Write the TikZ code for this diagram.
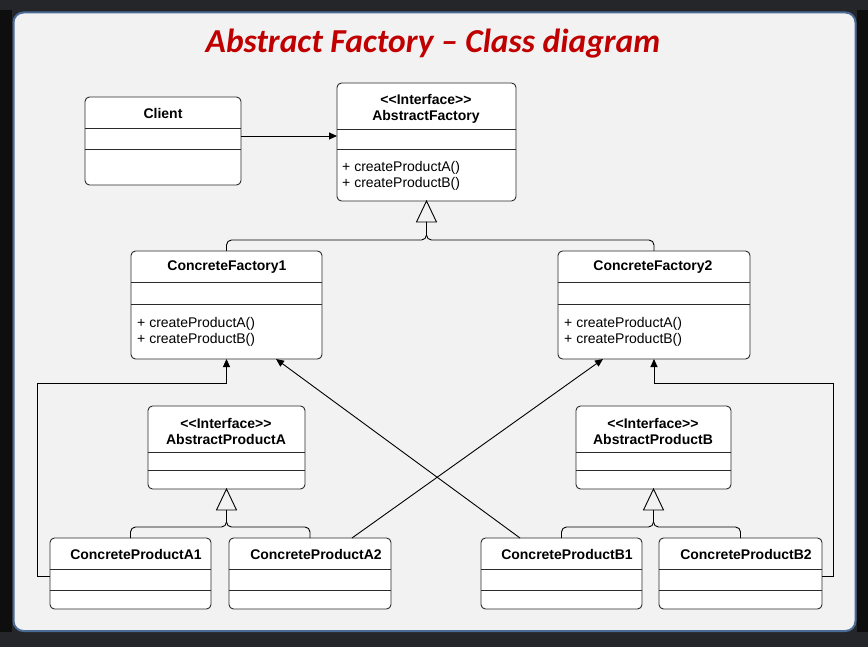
\documentclass[tikz,border=0pt]{standalone}
\usepackage{fontspec}
\setmainfont{Liberation Sans}
\newfontfamily\titlefont{Carlito}
\usetikzlibrary{arrows.meta,calc}
\definecolor{outerbg}{HTML}{25262A}
\definecolor{sidebg}{HTML}{0E0E0E}
\definecolor{panelbg}{HTML}{F2F2F2}
\definecolor{panelbd}{HTML}{4A6B95}
\definecolor{titlered}{HTML}{C00000}
\definecolor{boxline}{HTML}{2A2A2A}
\tikzset{
 ubox/.style={draw=boxline, fill=white, line width=0.9pt, rounded corners=4.5pt, inner sep=0pt, outer sep=0pt},
 sepline/.style={draw=boxline, line width=0.9pt},
 cname/.style={font=\fontsize{14}{16}\selectfont\bfseries, align=center, inner sep=0pt, text=black},
 meth/.style={font=\fontsize{14}{16}\selectfont, align=left, inner sep=0pt, anchor=west, text=black},
 conn/.style={draw=black, line width=0.9pt},
 arr/.style={conn, -{Triangle[length=8pt,width=7pt]}},
 gentri/.style={draw=black, line width=0.9pt, fill=panelbg},
}
\newcommand\umlcls[7]{%
 \node[ubox, minimum width={(#4-#2)*1pt}, minimum height={(#5-#3)*1pt}] (#1) at ({(#2+#4)/2},{(#3+#5)/2}) {};
 \draw[sepline] (#2,#6) -- (#4,#6);
 \draw[sepline] (#2,#7) -- (#4,#7);
}
\newcommand\genlink[4]{%
 \draw[gentri] (#1.south) -- ++(-10,21) -- ++(20,0) -- cycle;
 \draw[conn, rounded corners=5pt] (#2.north) |- ([yshift=-#4pt]#1.south) -- ([yshift=-21pt]#1.south);
 \draw[conn, rounded corners=5pt] (#3.north) |- ([yshift=-#4pt]#1.south) -- ([yshift=-21pt]#1.south);
}
\begin{document}
\begin{tikzpicture}[x=1pt,y=-1pt]
\useasboundingbox (0,0) rectangle (868,647);
\fill[outerbg] (0,0) rectangle (868,647);
\fill[sidebg] (0,10) rectangle (12,632);
\fill[sidebg] (857,10) rectangle (868,632);
\draw[panelbd, fill=panelbg, line width=2pt, rounded corners=10pt] (13.5,12.5) rectangle (855.5,631);

\node[font=\titlefont\fontsize{33.5}{38}\selectfont\bfseries\itshape, text=titlered, anchor=base, inner sep=0pt] (title) at (433,53) {Abstract Factory – Class diagram};

\umlcls{client}{85}{97}{241}{185}{128}{149}
\umlcls{af}{337}{83}{516}{201}{129}{149}
\umlcls{cfa}{131}{251}{322}{359}{282}{304}
\umlcls{cfb}{558}{251}{750}{359}{282}{304}
\umlcls{apa}{148}{406}{305}{489}{452}{470}
\umlcls{apb}{576}{406}{731}{489}{452}{470}
\umlcls{cpa1}{50}{538}{211}{609}{569}{590}
\umlcls{cpa2}{229}{538}{391}{609}{569}{590}
\umlcls{cpb1}{481}{538}{642}{609}{569}{590}
\umlcls{cpb2}{659}{538}{822}{609}{569}{590}

\node[cname] (tclient) at (163,113) {Client};
\node[cname] (taf) at (426,109) {<\kern0pt<Interface>\kern0pt>\\AbstractFactory};
\node[meth] (maf) at (342,176) {+ createProductA()\\+ createProductB()};
\node[cname] (tcfa) at (227,267) {ConcreteFactory1};
\node[meth] (mcfa) at (137,332) {+ createProductA()\\+ createProductB()};
\node[cname] (tcfb) at (653,267) {ConcreteFactory2};
\node[meth] (mcfb) at (564,332) {+ createProductA()\\+ createProductB()};
\node[cname] (tapa) at (226,431) {<\kern0pt<Interface>\kern0pt>\\AbstractProductA};
\node[cname] (tapb) at (653,431) {<\kern0pt<Interface>\kern0pt>\\AbstractProductB};
\node[cname] (tcpa1) at (136,554) {ConcreteProductA1};
\node[cname] (tcpa2) at (316,554) {ConcreteProductA2};
\node[cname] (tcpb1) at (567,554) {ConcreteProductB1};
\node[cname] (tcpb2) at (746,554) {ConcreteProductB2};

% client uses abstract factory
\draw[arr] ([yshift=5pt]client.east) -- ([yshift=5pt]client.east -| af.west);

% generalizations
\genlink{af}{cfa}{cfb}{39}
\genlink{apa}{cpa1}{cpa2}{38}
\genlink{apb}{cpb1}{cpb2}{38}

% creation links
\coordinate (la) at (37,383);
\coordinate (ra) at (833,383);
\draw[arr] ([yshift=-2.5pt]cpa1.west) -| (la) -| (cfa.south);
\draw[arr] ([yshift=-2.5pt]cpb2.east) -| (ra) -| (cfb.south);
\draw[arr] ([xshift=42pt]cpa2.north) -- ([xshift=-51pt]cfb.south);
\draw[arr] ([xshift=-41.5pt]cpb1.north) -- ([xshift=49.5pt]cfa.south);
\end{tikzpicture}
\end{document}
